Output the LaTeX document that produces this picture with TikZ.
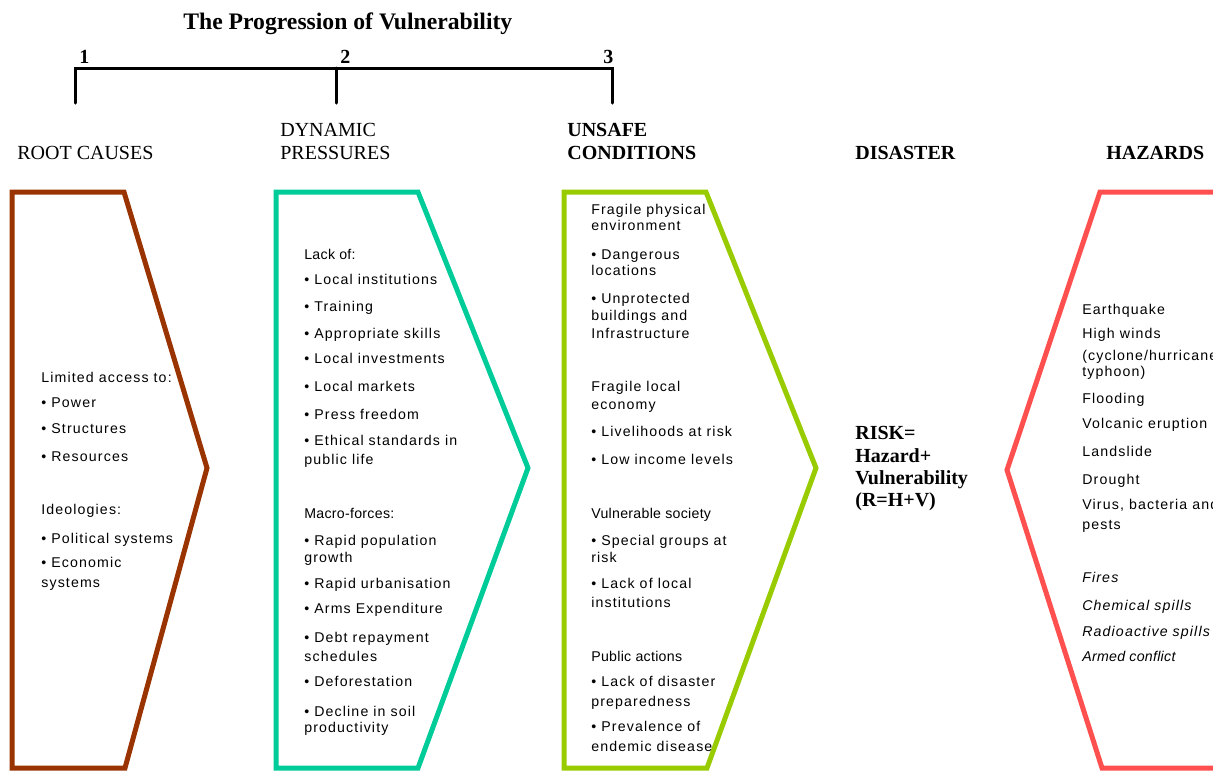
\documentclass[tikz,border=0pt]{standalone}
\usepackage{fontspec}
\newfontfamily\bodyfont[LetterSpace=8]{Liberation Sans}
\newfontfamily\tightfont[LetterSpace=2]{Liberation Sans}
\newfontfamily\headfont{Liberation Serif}
\definecolor{rootbrown}{RGB}{153,51,0}
\definecolor{pressteal}{RGB}{0,204,153}
\definecolor{unsafegreen}{RGB}{153,204,0}
\definecolor{hazardred}{RGB}{255,80,80}
\tikzset{
  txt/.style={anchor=base west, inner sep=0pt, font=\bodyfont\fontsize{8.5pt}{10pt}\selectfont},
  head/.style={anchor=base west, inner sep=0pt, font=\headfont\fontsize{12pt}{14pt}\selectfont},
  headb/.style={anchor=base west, inner sep=0pt, font=\headfont\bfseries\fontsize{12pt}{14pt}\selectfont},
  titlefont/.style={anchor=base west, inner sep=0pt, font=\headfont\bfseries\fontsize{14.2pt}{16pt}\selectfont},
  chevron/.style={line width=3pt, line join=miter},
  bracket/.style={line width=1.8pt, line cap=round},
}
\begin{document}
\begin{tikzpicture}[x=0.6pt, y=-0.6pt]
\useasboundingbox (0,0) rectangle (1213,771);
\clip (0,0) rectangle (1213,771);

% title and the three-step bracket
\node[titlefont] (title) at (183,29) {The Progression of Vulnerability};
\coordinate (s1) at (75,68);  \coordinate (e1) at (75,103);
\coordinate (s2) at (336,68); \coordinate (e2) at (336,103);
\coordinate (s3) at (612,68); \coordinate (e3) at (612,103);
\draw[bracket] (e1) -- (s1) -- (s3) -- (e3);
\draw[bracket] (s2) -- (e2);
\node[headb] (n1) at (79,63) {1};
\node[headb] (n2) at (340,63) {2};
\node[headb] (n3) at (603,63) {3};

% column headings
\node[head]  (hroot) at (17,159) {ROOT CAUSES};
\node[head]  (hdyn1) at (280,136) {DYNAMIC};
\node[head]  (hdyn2) at (280,159) {PRESSURES};
\node[headb] (hun1)  at (567,136) {UNSAFE};
\node[headb] (hun2)  at (567,159) {CONDITIONS};
\node[headb] (hdis)  at (855,159) {DISASTER};
\node[headb] (hhaz)  at (1106,159) {HAZARDS};

% chevron outlines
\draw[chevron, rootbrown]   (12,192) -- (124,192) -- (207,468) -- (125,768) -- (12,768) -- cycle;
\draw[chevron, pressteal]   (276,192) -- (418,192) -- (528,468) -- (418,768) -- (276,768) -- cycle;
\draw[chevron, unsafegreen] (564,192) -- (706,192) -- (816,468) -- (707,768) -- (564,768) -- cycle;
\draw[chevron, hazardred]   (1240,192) -- (1100,192) -- (1007,470) -- (1102,768) -- (1240,768);

% root causes
\foreach \yy/\lbl [count=\i] in {
  382/Limited access to:, 407/• Power, 433/• Structures, 461/• Resources,
  514/Ideologies:, 543/• Political systems, 567/• Economic, 587/systems}
  \node[txt, name=rc\i] at (41,\yy) {\lbl};

% dynamic pressures
\foreach \yy/\lbl [count=\i] in {
  259/{\tightfont Lack of:}, 284/• Local institutions, 311/• Training,
  338/• Appropriate skills, 363/• Local investments, 391/• Local markets,
  419/• Press freedom, 445/• Ethical standards in, 464/public life,
  518/{\tightfont Macro-forces:}, 545/• Rapid population, 562/growth,
  588/• Rapid urbanisation, 613/• Arms Expenditure, 642/• Debt repayment,
  661/schedules, 686/• Deforestation, 716/• Decline in soil, 732/productivity}
  \node[txt, name=dp\i] at (304,\yy) {\lbl};

% unsafe conditions
\foreach \yy/\lbl [count=\i] in {
  214/Fragile physical, 230/environment, 259/• Dangerous, 275/locations,
  303/• Unprotected, 320/buildings and, 338/Infrastructure,
  391/Fragile local, 409/economy, 436/• Livelihoods at risk, 464/• Low income levels,
  518/{\tightfont Vulnerable society}, 545/• Special groups at, 562/risk,
  588/• Lack of local, 607/institutions,
  661/{\tightfont Public actions}, 686/• Lack of disaster, 706/preparedness,
  731/• Prevalence of, 751/endemic disease}
  \node[txt, name=uc\i] at (591,\yy) {\lbl};

% disaster
\node[headb] (risk1) at (855,439) {RISK=};
\node[headb] (risk2) at (855,462) {Hazard+};
\node[headb] (risk3) at (855,484) {Vulnerability};
\node[headb] (risk4) at (855,506) {(R=H+V)};

% hazards
\foreach \yy/\lbl [count=\i] in {
  314/Earthquake, 338/High winds, 360/{(cyclone/hurricane/}, 376/typhoon),
  403/Flooding, 428/Volcanic eruption, 456/Landslide, 484/Drought,
  509/{Virus, bacteria and}, 529/pests,
  582/{\itshape Fires}, 610/{\itshape Chemical spills},
  636/{\itshape Radioactive spills}, 661/{\itshape\tightfont Armed conflict}}
  \node[txt, name=hz\i] at (1082,\yy) {\lbl};
\end{tikzpicture}
\end{document}
